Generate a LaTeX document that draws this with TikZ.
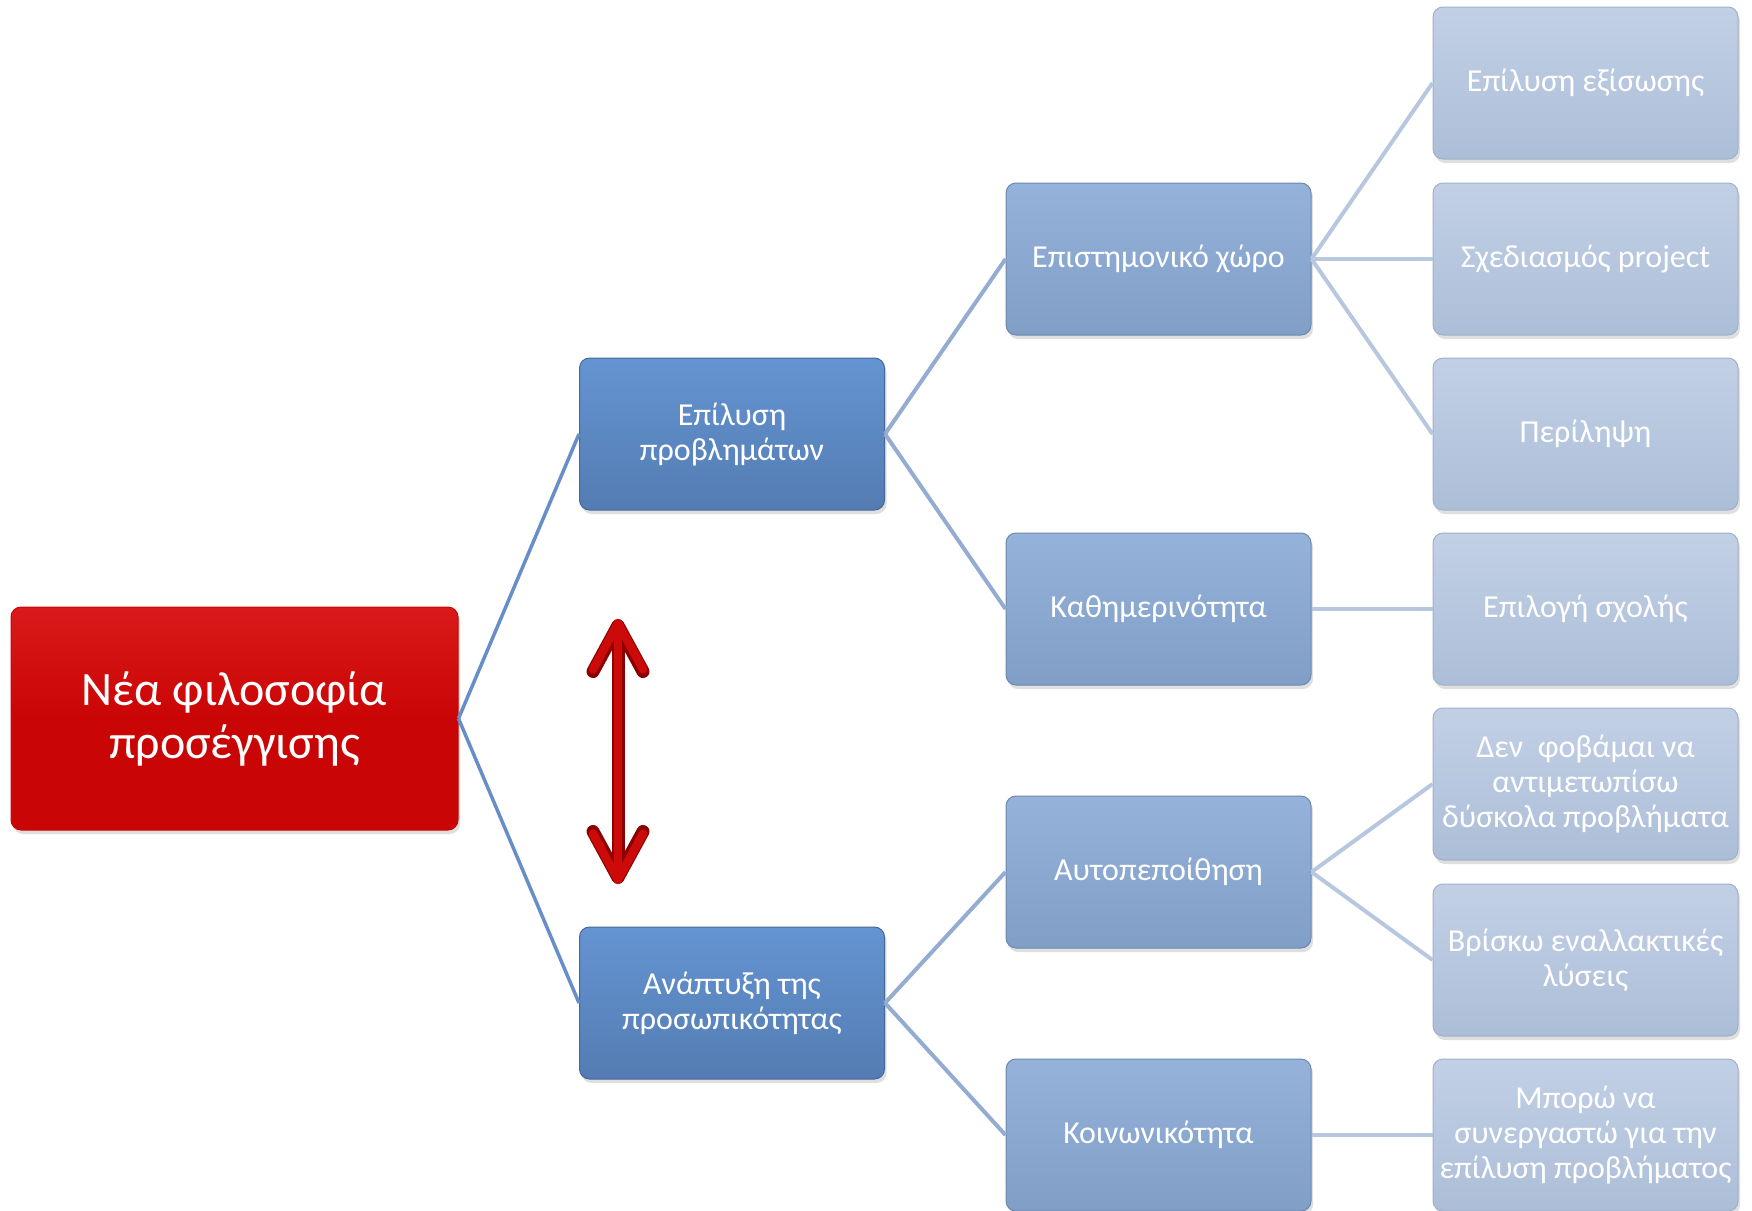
\documentclass[tikz,border=0pt]{standalone}
\usepackage{fontspec}
\setmainfont{Carlito}
\usetikzlibrary{shadows,arrows.meta}
\definecolor{rootTop}{RGB}{218,26,26}
\definecolor{rootBot}{RGB}{202,5,5}
\definecolor{aTop}{RGB}{100,148,210}
\definecolor{aBot}{RGB}{84,124,178}
\definecolor{aEdge}{RGB}{70,104,150}
\definecolor{bTop}{RGB}{148,178,218}
\definecolor{bBot}{RGB}{128,158,198}
\definecolor{bEdge}{RGB}{110,136,172}
\definecolor{cTop}{RGB}{194,208,230}
\definecolor{cBot}{RGB}{172,190,215}
\definecolor{cEdge}{RGB}{160,176,200}
\definecolor{lineA}{RGB}{104,142,200}
\definecolor{lineB}{RGB}{148,172,210}
\definecolor{lineC}{RGB}{184,199,224}
\definecolor{arrowRed}{RGB}{204,10,10}
\definecolor{arrowDark}{RGB}{140,0,0}
\tikzset{
  box/.style={rounded corners=10pt, minimum width=305pt, minimum height=152pt,
    inner sep=0pt, align=center, text=white, font=\fontsize{32}{35}\selectfont,
    line width=1pt,
    drop shadow={shadow xshift=2pt, shadow yshift=-4pt, opacity=0.25}},
  rootbox/.style={box, minimum width=447pt, minimum height=223pt,
    top color=rootTop, bottom color=rootBot, middle color=rootBot, draw=rootBot,
    font=\fontsize{48}{53}\selectfont},
  lvla/.style={box, top color=aTop, bottom color=aBot, draw=aEdge},
  lvlb/.style={box, top color=bTop, bottom color=bBot, draw=bEdge},
  lvlc/.style={box, top color=cTop, bottom color=cBot, draw=cEdge},
  linka/.style={draw=lineA, line width=3.5pt},
  linkb/.style={draw=lineB, line width=4pt},
  linkc/.style={draw=lineC, line width=4pt},
  barb/.style={arrows={Straight Barb[length=46pt,width=50pt,round]-Straight Barb[length=46pt,width=50pt,round]}},
}
\begin{document}
\begin{tikzpicture}[x=1pt,y=-1pt]
\useasboundingbox (0,0) rectangle (1752,1210);
% root
\node[rootbox] (root) at (234.5,718.5) {Νέα φιλοσοφία\\προσέγγισης};
% level 1
\node[lvla] (a1) at (732,434) {Επίλυση\\προβλημάτων};
\node[lvla] (a2) at (732,1003) {Ανάπτυξη της\\προσωπικότητας};
% level 2
\node[lvlb] (b1) at (1158.5,259) {Επιστημονικό χώρο};
\node[lvlb] (b2) at (1158.5,609) {Καθημερινότητα};
\node[lvlb] (b3) at (1158.5,872) {Αυτοπεποίθηση};
\node[lvlb] (b4) at (1158.5,1135) {Κοινωνικότητα};
% level 3
\node[lvlc] (c1) at (1585.5,83) {Επίλυση εξίσωσης};
\node[lvlc] (c2) at (1585.5,259) {Σχεδιασμός project};
\node[lvlc] (c3) at (1585.5,434) {Περίληψη};
\node[lvlc] (c4) at (1585.5,609) {Επιλογή σχολής};
\node[lvlc] (c5) at (1585.5,784) {Δεν\ \ φοβάμαι να\\αντιμετωπίσω\\δύσκολα προβλήματα};
\node[lvlc] (c6) at (1585.5,960) {Βρίσκω εναλλακτικές\\λύσεις};
\node[lvlc] (c7) at (1585.5,1135) {Μπορώ να\\συνεργαστώ για την\\επίλυση προβλήματος};
% connectors
\draw[linka] (root.east) -- (a1.west);
\draw[linka] (root.east) -- (a2.west);
\draw[linkb] (a1.east) -- (b1.west);
\draw[linkb] (a1.east) -- (b2.west);
\draw[linkb] (a2.east) -- (b3.west);
\draw[linkb] (a2.east) -- (b4.west);
\draw[linkc] (b1.east) -- (c1.west);
\draw[linkc] (b1.east) -- (c2.west);
\draw[linkc] (b1.east) -- (c3.west);
\draw[linkc] (b2.east) -- (c4.west);
\draw[linkc] (b3.east) -- (c5.west);
\draw[linkc] (b3.east) -- (c6.west);
\draw[linkc] (b4.east) -- (c7.west);
% red double arrow
\coordinate (arrTop) at (618,619);
\coordinate (arrBot) at (618,884);
\draw[arrowDark, line width=13pt, barb] (arrTop) -- (arrBot);
\draw[arrowRed, line width=8.5pt, barb] (arrTop) -- (arrBot);
\end{tikzpicture}
\end{document}
